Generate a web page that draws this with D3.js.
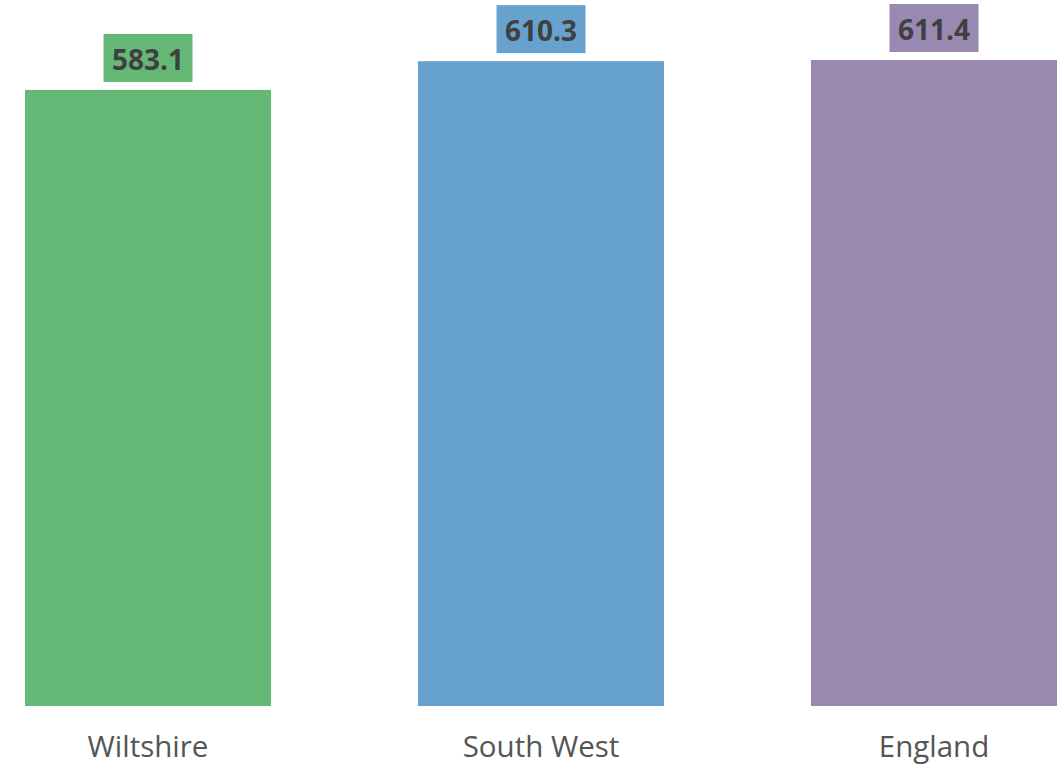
<!DOCTYPE html>
<html>
<head>
<meta charset="utf-8">
<script src="https://cdn.jsdelivr.net/npm/d3@7"></script>
<style>
  html, body { margin: 0; padding: 0; background: #fff; }
  svg { display: block; font-family: "Open Sans", "Noto Sans", sans-serif; }
</style>
</head>
<body>
<svg id="chart" width="1064" height="765"></svg>
<script>
const categories = ["Wiltshire", "South West", "England"];
const values = [583.1, 610.3, 611.4];
const colors = ["#66b877", "#66a2cd", "#9989b0"];

const svg = d3.select("#chart");
const x = d3.scaleBand().domain(categories).range([25, 1057]).paddingInner(0.374).paddingOuter(0);
const y = d3.scaleLinear().domain([0, d3.max(values)]).range([706, 60]);

const data = categories.map((c, i) => ({ c, v: values[i], col: colors[i] }));

svg.selectAll("rect.bar").data(data).join("rect")
  .attr("class", "bar")
  .attr("x", d => x(d.c))
  .attr("y", d => y(d.v))
  .attr("width", x.bandwidth())
  .attr("height", d => y(0) - y(d.v))
  .attr("fill", d => d.col);

const lbl = svg.selectAll("g.lbl").data(data).join("g").attr("class", "lbl")
  .attr("transform", d => `translate(${x(d.c) + x.bandwidth() / 2},${y(d.v) - 8 - 24})`);
lbl.append("text")
  .attr("text-anchor", "middle")
  .attr("dy", "0.42em")
  .attr("font-size", 28)
  .attr("font-weight", "bold")
  .attr("fill", "#404040")
  .text(d => d.v.toFixed(1));
lbl.each(function(d) {
  const g = d3.select(this);
  const pw = 89;
  g.insert("rect", "text")
    .attr("x", -pw / 2)
    .attr("y", -24)
    .attr("width", pw)
    .attr("height", 48)
    .attr("fill", d.col);
});

const axis = d3.axisBottom(x).tickSize(0).tickPadding(0);
const ax = svg.append("g").attr("transform", "translate(0,706)").call(axis);
ax.select(".domain").remove();
ax.selectAll("text")
  .attr("font-family", "\"Open Sans\", \"Noto Sans\", sans-serif")
  .attr("font-size", 29.5)
  .attr("fill", "#555555")
  .attr("dy", null)
  .attr("y", 51);
</script>
</body>
</html>
